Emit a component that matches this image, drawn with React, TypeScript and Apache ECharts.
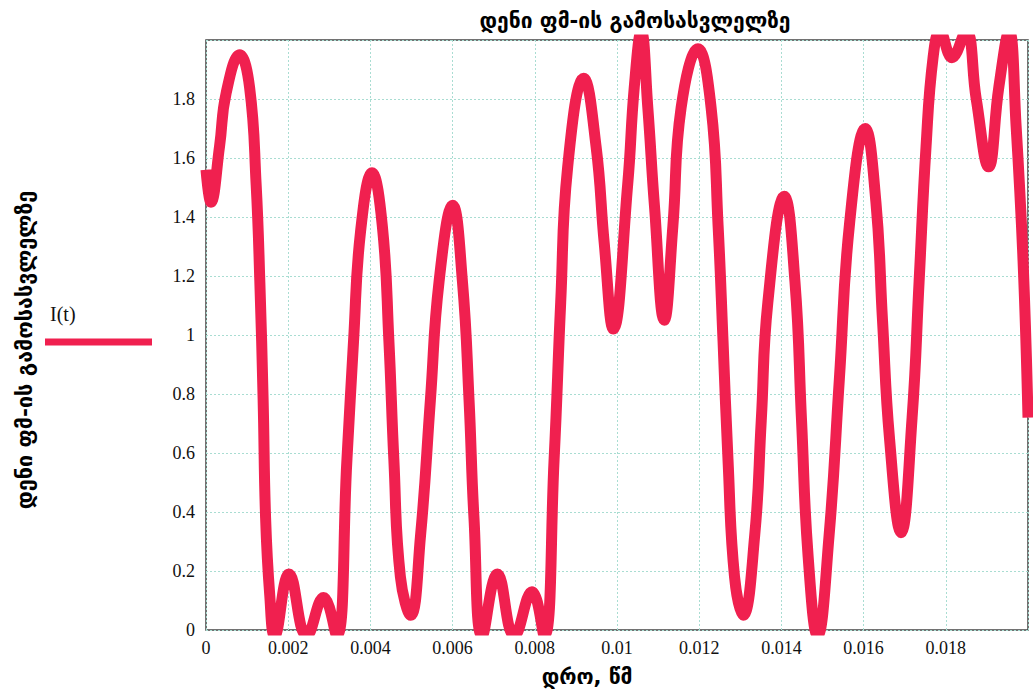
import React, { useEffect, useRef } from "react";
import * as echarts from "echarts";

const titleText = "დენი ფმ-ის გამოსასვლელზე";
const yAxisTitle = "დენი ფმ-ის გამოსასვლელზე";
const xAxisTitle = "დრო, წმ";
const seriesName = "I(t)";

const time = [
  0, 0.00012, 0.00033, 0.00049, 0.00082, 0.00106, 0.00122, 0.00131, 0.00139, 0.00145,
  0.00155, 0.00167, 0.00202, 0.00245, 0.00286, 0.00318, 0.00343, 0.00359, 0.00376, 0.00404,
  0.00429, 0.00445, 0.00457, 0.00473, 0.00498, 0.00522, 0.00546, 0.00567, 0.006, 0.00624,
  0.0064, 0.00652, 0.00672, 0.00709, 0.0075, 0.00793, 0.00823, 0.00847, 0.00863, 0.0088,
  0.00919, 0.00949, 0.00969, 0.00991, 0.01026, 0.01042, 0.01059, 0.01075, 0.01091, 0.01115,
  0.01136, 0.01156, 0.01197, 0.01229, 0.01246, 0.01258, 0.0127, 0.01286, 0.01307, 0.01335,
  0.01351, 0.01367, 0.01407, 0.01433, 0.01449, 0.01465, 0.01488, 0.01516, 0.01541, 0.01566,
  0.01604, 0.0163, 0.01646, 0.01663, 0.01691, 0.01718, 0.01735, 0.01752, 0.01769, 0.01786,
  0.01815, 0.01849, 0.01874, 0.01904, 0.01929, 0.01954, 0.01971, 0.01988, 0.02,
];

const current = [
  1.56, 1.45, 1.64, 1.82, 1.95, 1.84, 1.51, 1.18, 0.78, 0.38,
  0.12, -0.02, 0.19, -0.02, 0.11, -0.02, 0.58, 0.98, 1.35, 1.55,
  1.37, 0.98, 0.58, 0.18, 0.05, 0.32, 0.78, 1.18, 1.44, 1.18,
  0.78, 0.38, -0.02, 0.19, -0.02, 0.13, -0.02, 0.58, 1.11, 1.57,
  1.87, 1.64, 1.31, 1.02, 1.51, 1.84, 2.03, 1.77, 1.44, 1.05,
  1.37, 1.77, 1.97, 1.77, 1.37, 0.98, 0.58, 0.18, 0.05, 0.32,
  0.71, 1.11, 1.47, 1.18, 0.71, 0.25, -0.02, 0.32, 0.85, 1.38,
  1.70, 1.45, 1.05, 0.65, 0.33, 0.72, 1.18, 1.64, 1.94, 2.03,
  1.94, 2.03, 1.80, 1.57, 1.84, 2.03, 1.71, 1.25, 0.72,
];

const LINE_COLOR = "#f0204f";
const GRID_COLOR = "#a9ddd2";
const SERIF = "'Liberation Serif', 'DejaVu Serif', serif";
const GEO = "'DejaVu Sans', sans-serif";

export default function App() {
  const ref = useRef<HTMLDivElement>(null);

  useEffect(() => {
    if (!ref.current) return;
    const chart = echarts.init(ref.current, undefined, { renderer: "svg" });
    const data = time.map((t, i) => [t, current[i]]);
    chart.setOption({
      animation: false,
      backgroundColor: "#ffffff",
      title: {
        text: titleText,
        left: 630,
        top: 5,
        textAlign: "center",
        textStyle: { fontFamily: GEO, fontWeight: "bold", fontSize: 21, color: "#000" },
      },
      grid: {
        left: 206,
        right: 5,
        top: 40,
        bottom: 61,
        show: true,
        borderColor: "#444",
        borderWidth: 1.5,
        backgroundColor: "transparent",
      },
      xAxis: {
        type: "value",
        min: 0,
        max: 0.02,
        interval: 0.002,
        axisLine: { show: false },
        axisTick: { show: false },
        axisLabel: {
          showMaxLabel: false,
          margin: 9,
          fontFamily: SERIF,
          fontSize: 18,
          color: "#111",
        },
        splitLine: { show: true, lineStyle: { color: GRID_COLOR, type: [2, 2], width: 1 } },
      },
      yAxis: {
        type: "value",
        min: 0,
        max: 2,
        interval: 0.2,
        axisLine: { show: false },
        axisTick: { show: false },
        axisLabel: {
          showMaxLabel: false,
          margin: 11,
          fontFamily: SERIF,
          fontSize: 18,
          color: "#111",
        },
        splitLine: { show: true, lineStyle: { color: GRID_COLOR, type: [2, 2], width: 1 } },
      },
      graphic: [
        {
          type: "text",
          x: 24,
          y: 350,
          rotation: Math.PI / 2,
          style: {
            text: yAxisTitle,
            fontFamily: GEO,
            fontWeight: "bold",
            fontSize: 21.5,
            fill: "#000",
            align: "center",
            verticalAlign: "middle",
          },
        },
        {
          type: "text",
          x: 587,
          y: 677,
          style: {
            text: xAxisTitle,
            fontFamily: GEO,
            fontWeight: "bold",
            fontSize: 21,
            fill: "#000",
            align: "center",
            verticalAlign: "middle",
          },
        },
        {
          type: "text",
          x: 50,
          y: 304,
          style: { text: seriesName, fontFamily: SERIF, fontSize: 20, fill: "#111" },
        },
        {
          type: "line",
          shape: { x1: 45, y1: 342, x2: 152, y2: 342 },
          style: { stroke: LINE_COLOR, lineWidth: 7 },
        },
      ],
      series: [
        {
          name: seriesName,
          type: "line",
          data,
          smooth: 0.45,
          showSymbol: false,
          clip: true,
          lineStyle: { color: LINE_COLOR, width: 11 },
          itemStyle: { color: LINE_COLOR },
        },
      ],
    });
    return () => chart.dispose();
  }, []);

  return (
    <div
      ref={ref}
      style={{ position: "fixed", left: 0, top: 0, width: 1033, height: 691 }}
    />
  );
}
